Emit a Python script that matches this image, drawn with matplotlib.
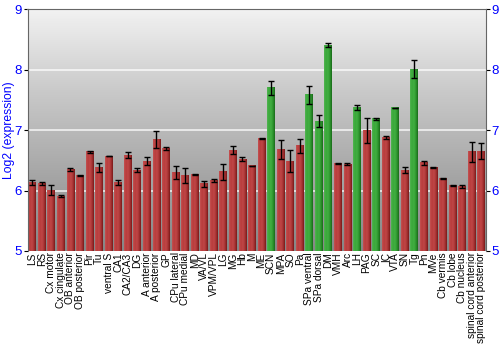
import matplotlib
matplotlib.use('Agg')
import matplotlib.pyplot as plt
import numpy as np
from matplotlib.colors import LinearSegmentedColormap

plt.rcParams['font.family'] = ['Liberation Sans', 'DejaVu Sans']

labels = ['LS', 'RS', 'Cx motor', 'Cx cingulate', 'OB anterior', 'OB posterior',
          'Pir', 'Tu', 'ventral S', 'CA1', 'CA2/CA3', 'DG', 'A anterior',
          'A posterior', 'GP', 'CPu lateral', 'CPu medial', 'MD', 'VA/VL',
          'VPM/VPL', 'LG', 'MG', 'Hb', 'M', 'ME', 'SCN', 'MPA', 'SO', 'Pa',
          'SPa ventral', 'SPa dorsal', 'DM', 'VMH', 'Arc', 'LH', 'PAG', 'SC',
          'IC', 'VTA', 'SN', 'Tg', 'Pn', 'MVe', 'Cb vermis', 'Cb lobe',
          'Cb nucleus', 'spinal cord anterior', 'spinal cord posterior']
values = [6.14, 6.12, 6.01, 5.91, 6.35, 6.25, 6.64, 6.38, 6.57, 6.14, 6.59,
          6.34, 6.49, 6.85, 6.70, 6.30, 6.25, 6.26, 6.11, 6.17, 6.31, 6.67,
          6.52, 6.41, 6.86, 7.70, 6.68, 6.49, 6.74, 7.59, 7.15, 8.41, 6.45,
          6.44, 7.37, 7.00, 7.19, 6.88, 7.37, 6.34, 8.01, 6.46, 6.38, 6.20,
          6.08, 6.07, 6.64, 6.65]
errors = [0.04, 0.02, 0.09, 0.02, 0.02, 0.005, 0.01, 0.07, 0.005, 0.04, 0.05,
          0.04, 0.06, 0.14, 0.02, 0.10, 0.12, 0.01, 0.05, 0.02, 0.13, 0.07,
          0.03, 0.005, 0.01, 0.11, 0.15, 0.19, 0.11, 0.15, 0.10, 0.03, 0.01,
          0.02, 0.04, 0.21, 0.02, 0.03, 0.003, 0.05, 0.15, 0.03, 0.01, 0.01,
          0.005, 0.02, 0.17, 0.13]
highlight = ['SCN', 'SPa ventral', 'SPa dorsal', 'DM', 'LH', 'SC', 'VTA', 'Tg']

red_cm = LinearSegmentedColormap.from_list('r', ['#c45252', '#b83c3c', '#c04646', '#a83434', '#7a1a1a'])
green_cm = LinearSegmentedColormap.from_list('g', ['#52b452', '#3aa83a', '#42ae42', '#2e962e', '#1a6a1a'])
bg_cm = LinearSegmentedColormap.from_list('bg', ['#868686', '#a8a8a8', '#cacaca', '#f2f2f2'])

fig = plt.figure(figsize=(5, 3.5), dpi=100)
ax = fig.add_axes([0.055, 0.283, 0.917, 0.69])

n = len(labels)
x = np.arange(n)

# background gradient
ax.imshow(np.linspace(0, 1, 256).reshape(-1, 1), extent=[-0.5, n - 0.5, 5, 9],
          origin='lower', aspect='auto', cmap=bg_cm, zorder=0)
for g in [6, 7, 8]:
    ax.axhline(g, color='white', lw=1.2, alpha=0.8, zorder=1)

w = 0.82
grad = np.linspace(0, 1, 64).reshape(1, -1)
for i, (lab, v) in enumerate(zip(labels, values)):
    cm = green_cm if lab in highlight else red_cm
    ax.imshow(grad, extent=[i - w / 2, i + w / 2, 5, v], origin='lower',
              aspect='auto', cmap=cm, zorder=2)
ax.errorbar(x, values, yerr=errors, fmt='none', ecolor='black', elinewidth=1,
            capsize=2, capthick=1, zorder=3)
ax.set_xlim(-0.5, n - 0.5)
ax.set_ylim(5, 9)

ax.set_xticks(x)
ax.set_xticklabels(labels, rotation=90, fontsize=7.3)
ax.tick_params(axis='x', length=0, pad=1)
ax.set_yticks([5, 6, 7, 8, 9])
ax.tick_params(axis='y', labelcolor='blue', labelsize=9.5, length=3, pad=1,
               right=True, labelright=True)
ax.set_ylabel('Log2 (expression)', color='blue', fontsize=8.7, labelpad=0)
for s in ax.spines.values():
    s.set_color('#666666')
ax.spines['bottom'].set_visible(False)

fig.savefig('out.png', dpi=100)
